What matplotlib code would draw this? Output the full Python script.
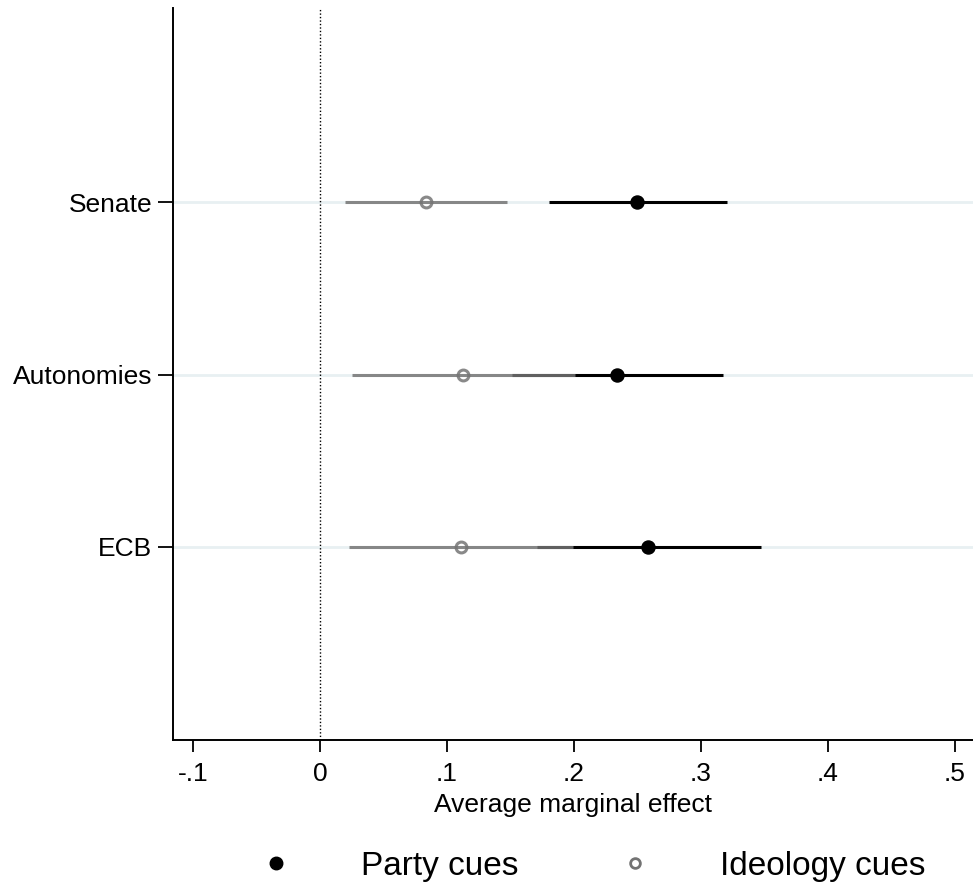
import matplotlib
matplotlib.use("Agg")
import matplotlib.pyplot as plt
from matplotlib.lines import Line2D

plt.rcParams["font.family"] = ["Liberation Sans", "DejaVu Sans"]

# data
categories = ["ECB", "Autonomies", "Senate"]
party_est = [0.2585, 0.234, 0.250]
party_lo = [0.171, 0.151, 0.180]
party_hi = [0.347, 0.3176, 0.3205]
ideo_est = [0.111, 0.113, 0.0835]
ideo_lo = [0.0228, 0.025, 0.020]
ideo_hi = [0.1995, 0.201, 0.147]
xticks = [-0.1, 0, 0.1, 0.2, 0.3, 0.4, 0.5]
xtick_labels = ["-.1", "0", ".1", ".2", ".3", ".4", ".5"]

ypos = [1, 2, 3]
ideo_col = "#737373"

fig = plt.figure(figsize=(9.73, 8.91), dpi=100)
ax = fig.add_axes([173 / 973, 1 - 740 / 891, 1 - 173 / 973, (740 - 8) / 891])

for y in ypos:
    ax.axhline(y, color="#e8f0f2", lw=2, zorder=0)
ax.axvline(0, color="black", lw=1, linestyle=(0, (1, 1.5)), zorder=1)

# party cues
ax.hlines(ypos, party_lo, party_hi, color="black", lw=2.2, zorder=2)
ax.plot(party_est, ypos, "o", color="black", ms=9.4, zorder=3)

# ideology cues (drawn on top, slightly transparent)
ax.hlines(ypos, ideo_lo, ideo_hi, color=ideo_col, lw=2.2, alpha=0.84, zorder=4)
ax.plot(ideo_est, ypos, "o", mfc="none", mec=ideo_col, mew=2.2, ms=7.8, alpha=0.84, zorder=5)

ax.set_xlim(-0.1157, 0.5142)
ax.set_ylim(-0.119, 4.125)
ax.set_xticks(xticks)
ax.set_xticklabels(xtick_labels)
ax.set_yticks(ypos)
ax.set_yticklabels(categories)
ax.tick_params(axis="x", length=8.6, width=1.3, labelsize=19, pad=7)
ax.tick_params(axis="y", length=11, width=1.3, labelsize=19, pad=4)
ax.set_xlabel("Average marginal effect", fontsize=19, labelpad=5)

for s in ["top", "right"]:
    ax.spines[s].set_visible(False)
for s in ["left", "bottom"]:
    ax.spines[s].set_linewidth(1.4)

handles = [
    Line2D([], [], marker="o", color="black", ls="none", ms=9),
    Line2D([], [], marker="o", mfc="none", mec=ideo_col, mew=2, ms=7, ls="none"),
]
fig.legend(handles, ["Party cues", "Ideology cues"], loc="center",
           bbox_to_anchor=(0.6, 0.028), ncol=2, frameon=False, fontsize=24,
           handlelength=2, handletextpad=1.55, columnspacing=2.5)

fig.savefig("out.png", dpi=100)
